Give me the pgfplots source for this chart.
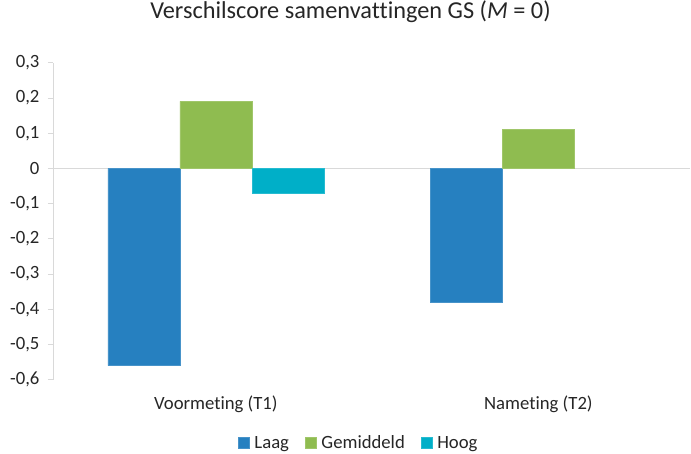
\documentclass[border=0pt]{standalone}
\usepackage{pgfplots}
\pgfplotsset{compat=1.18}
\usepackage{fontspec}
\setmainfont{Carlito}[Ligatures={NoCommon}]
\definecolor{cLaag}{HTML}{2680C0}
\definecolor{cGem}{HTML}{8FBC50}
\definecolor{cHoog}{HTML}{00AFC8}
\definecolor{axgray}{HTML}{D9D9D9}
\begin{document}
\begin{tikzpicture}
\begin{axis}[
  name=ax,
  scale only axis,
  width=637pt, height=317pt,
  xmin=-0.505, xmax=1.47,
  ymin=-0.6, ymax=0.3,
  ytick={-0.6,-0.5,-0.4,-0.3,-0.2,-0.1,0,0.1,0.2,0.3},
  yticklabels={{-0,6},{-0,5},{-0,4},{-0,3},{-0,2},{-0,1},{0},{0,1},{0,2},{0,3}},
  xtick={0,1},
  xticklabels={Voormeting (T1),Nameting (T2)},
  x axis line style={draw=none},
  y axis line style={draw=axgray, line width=0.8pt},
  axis x line*=bottom,
  axis y line*=left,
  x tick style={draw=none},
  y tick style={draw=axgray, line width=0.8pt},
  tick align=outside,
  major tick length=5pt,
  ticklabel style={font=\fontsize{18.7}{20}\selectfont, text=black!85},
  yticklabel style={xshift=-5pt},
  xticklabel style={yshift=-8pt},
  /pgf/number format/assume math mode=true,
  ybar,
  bar width=0.223,
  title={Verschilscore samenvattingen GS (\textit{M} = 0)},
  title style={font=\fontsize{24.3}{26}\selectfont, text=black!85, at={(rel axis cs:0.467,1.141)}, anchor=center},
  legend style={draw=none, at={(rel axis cs:0.48,-0.199)}, anchor=center,
    legend columns=-1, font=\fontsize{18.7}{20}\selectfont, text=black!85,
    /tikz/every odd column/.append style={column sep=3pt},
    /tikz/every even column/.append style={column sep=14pt}},
  legend image code/.code={\fill[#1] (0pt,-5pt) rectangle (11pt,6pt);},
  clip=false,
]
\draw[axgray, line width=1.2pt] (axis cs:-0.505,0) -- (axis cs:1.47,0);
\addplot[fill=cLaag, draw=cLaag!85!white, bar shift=-0.223] coordinates {(0,-0.56) (1,-0.38)};
\addplot[fill=cGem, draw=cGem!85!white, bar shift=0] coordinates {(0,0.19) (1,0.11)};
\addplot[fill=cHoog, draw=cHoog!85!white, bar shift=0.223] coordinates {(0,-0.07)};
\legend{Laag,Gemiddeld,Hoog}
\end{axis}
\pgfresetboundingbox
\path ([shift={(-53pt,-74pt)}]ax.south west) rectangle ([shift={(1pt,62.7pt)}]ax.north east);
\end{tikzpicture}
\end{document}
